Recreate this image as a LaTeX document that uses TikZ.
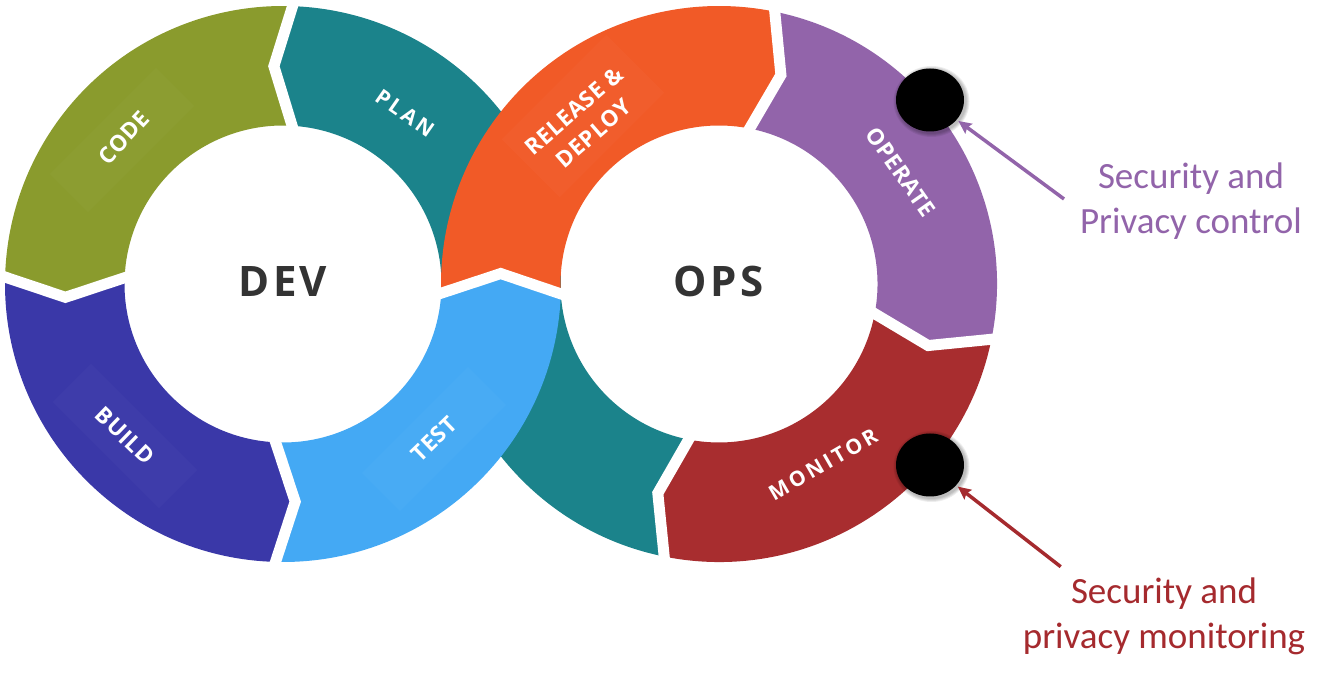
\documentclass[tikz,border=0pt]{standalone}
\usepackage{fontspec}
\usetikzlibrary{arrows.meta,shapes.geometric}
\newfontfamily\osspaced{Open Sans}[LetterSpace=15]
\newfontfamily\osmid{Open Sans}[LetterSpace=3]
\newfontfamily\osbig{Open Sans}[LetterSpace=8]
\newfontfamily\calfont{Carlito}
\definecolor{codeC}{RGB}{138,155,45}
\definecolor{planC}{RGB}{27,131,139}
\definecolor{buildC}{RGB}{58,56,168}
\definecolor{testC}{RGB}{68,169,244}
\definecolor{relC}{RGB}{241,90,39}
\definecolor{opC}{RGB}{146,100,170}
\definecolor{monC}{RGB}{168,45,47}
\definecolor{darkT}{RGB}{51,51,51}
\definecolor{annP}{RGB}{146,100,170}
\definecolor{annR}{RGB}{165,42,46}
\def\ringR{278}
\def\ringr{158.5}
\def\ringm{218}
\def\ringRx{284}
\def\ringrx{152}
% #1 centre, #2 #3 #4 start boundary (inner, tip, outer), #5 #6 #7 end boundary, #8 colour
\newcommand\ringseg[8]{\fill[#8,shift={#1}] (#4:\ringR) -- (#3:\ringm) -- (#2:\ringr)
  arc[start angle=#2,end angle=#5,radius=\ringr] -- (#6:\ringm) -- (#7:\ringR)
  arc[start angle=#7,end angle=#4,radius=\ringR] -- cycle;}
\newcommand\ringgap[4]{\draw[gapline,shift={#1}] (#4:\ringRx) -- (#3:\ringm) -- (#2:\ringrx);}
\begin{document}
\begin{tikzpicture}[x=1pt,y=1pt,
  gapline/.style={draw=white,line width=11pt,line join=miter},
  seglbl/.style={text=white,font=\osmid\bfseries\fontsize{22.5}{30}\selectfont,inner sep=0pt,align=center},
  seglblw/.style={text=white,font=\osspaced\bfseries\fontsize{21}{26}\selectfont,inner sep=0pt},
  hub/.style={text=darkT,font=\osbig\bfseries\fontsize{42}{50}\selectfont,inner sep=0pt},
  dot/.style={ellipse,fill=black,minimum width=68pt,minimum height=63pt,inner sep=0pt},
  ann/.style={font=\calfont\fontsize{37}{45}\selectfont,align=center,inner sep=0pt},
  annarrow/.style={line width=3.5pt,shorten >=2pt,-{Stealth[length=13pt,width=12pt,inset=2pt]}},
  glow/.style={fill=white,opacity=0.025}]
\useasboundingbox (0,0) rectangle (1328,682);
\fill[white] (0,0) rectangle (1328,682);
% --- under layers (teal passes under the crossing)
\ringseg{(719,398)}{184.2}{177.2}{182.5}{259.8}{253.7}{259}{planC}
\ringseg{(283,398)}{-4.3}{2.75}{-2.4}{85.8}{92.4}{87.7}{planC}
% --- left ring
\ringseg{(283,398)}{85.8}{92.4}{87.7}{176.8}{183.5}{178.2}{codeC}
\ringseg{(283,398)}{176.8}{183.5}{178.2}{266.4}{273.2}{268.1}{buildC}
% --- right ring
\ringseg{(719,398)}{-100.2}{-106.3}{-101}{-9.9}{-16.4}{-11.1}{monC}
\ringseg{(719,398)}{-9.9}{-16.4}{-11.1}{79.7}{73.5}{78.8}{opC}
% --- over layers
\ringseg{(283,398)}{266.4}{273.2}{268.1}{355.7}{362.75}{357.6}{testC}
\ringseg{(719,398)}{79.7}{73.5}{78.8}{184.2}{177.2}{182.5}{relC}
% --- white gaps between segments
\ringgap{(283,398)}{85.8}{92.4}{87.7}
\ringgap{(283,398)}{176.8}{183.5}{178.2}
\ringgap{(283,398)}{266.4}{273.2}{268.1}
\ringgap{(283,398)}{-4.3}{2.75}{-2.4}
\ringgap{(719,398)}{79.7}{73.5}{78.8}
\ringgap{(719,398)}{-9.9}{-16.4}{-11.1}
\ringgap{(719,398)}{-100.2}{-106.3}{-101}
% --- faint label plates
\fill[glow,rotate around={45:(122,542)}] (122-75,542-27) rectangle (122+75,542+27);
\fill[glow,rotate around={-45:(125,246)}] (125-75,246-27) rectangle (125+75,246+27);
\fill[glow,rotate around={45:(434,243)}] (434-75,243-27) rectangle (434+75,243+27);
\fill[glow,rotate around={45:(583,566)}] (583-74,566-41) rectangle (583+74,566+41);
% --- segment labels
\node[seglbl,rotate=47] (lcode) at (124,544.5) {CODE};
\node[seglblw,rotate=-35] (lplan) at (405,569) {PLAN};
\node[seglbl,rotate=-44] (lbuild) at (125,246) {BUILD};
\node[seglbl,rotate=44] (ltest) at (434,243) {TEST};
\node[seglbl,rotate=41] (lrel) at (584,560) {RELEASE \&\\DEPLOY};
\node[seglbl,rotate=-55] (lop) at (901,510.3) {OPERATE};
\node[seglblw,rotate=30] (lmon) at (823,217.8) {MONITOR};
% --- hubs
\node[hub] (dev) at (283,400.8) {DEV};
\node[hub] (ops) at (718.5,400.8) {OPS};
% --- control points
\foreach \yy in {582,217}{
  \foreach \k in {1,...,4}{
    \fill[black,opacity=0.07] (931.5,\yy-1.5) ellipse [x radius=34+\k, y radius=31.5+\k];}}
\node[dot] (d1) at (930,582) {};
\node[dot] (d2) at (930,217) {};
% --- annotations
\node[ann,text=annP,anchor=base] (t1) at (1191,448.7) {Security and\\Privacy control};
\node[ann,text=annR,anchor=base] (t2) at (1164,33.7) {Security and\\privacy monitoring};
\coordinate (s1) at (1064,483);
\coordinate (s2) at (1060.7,115.3);
\draw[annarrow,draw=annP,fill=annP] (s1) -- (d1);
\draw[annarrow,draw=annR,fill=annR] (s2) -- (d2);
\end{tikzpicture}
\end{document}
